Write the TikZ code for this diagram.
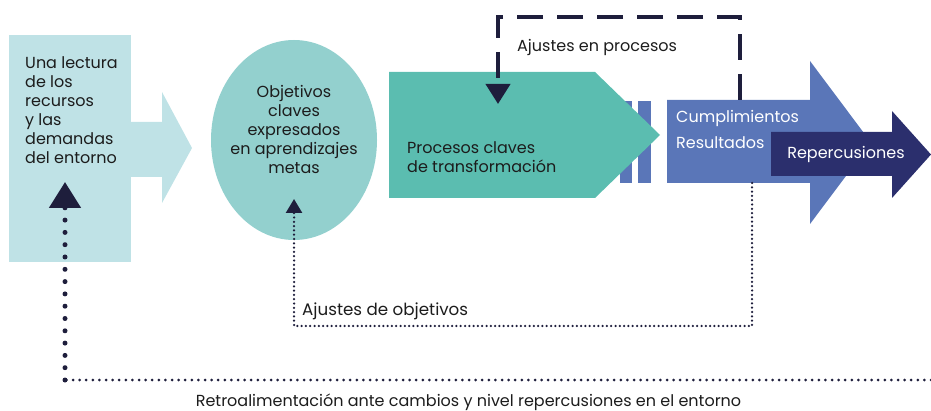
\documentclass[tikz,border=0pt]{standalone}
\usepackage{fontspec}
\setmainfont{Poppins}
\usepackage{tikz}
\usetikzlibrary{positioning, calc, arrows.meta, shapes.geometric}
\definecolor{lectura color}{HTML}{BFE2E6}
\definecolor{objetivo color}{HTML}{93D0CE}
\definecolor{proceso color}{HTML}{5BBDB0}
\definecolor{resultado color}{HTML}{5A76B8}
\definecolor{repercusion color}{HTML}{2B2F6D}
\definecolor{wire color}{HTML}{1E1E3C}
\definecolor{ink}{HTML}{1C1C1C}
\tikzset{lbl/.style={font=\fontsize{16}{19}\selectfont, text=ink, inner sep=0pt}}
\tikzset{whitelbl/.style={lbl, text=white}}
\tikzset{dashwire/.style={wire color, line width=4pt, dash pattern=on 26pt off 14pt}}
\tikzset{dotwire/.style={wire color, line width=2.5pt, line cap=round, dash pattern=on 0pt off 4.3pt}}
\tikzset{flatdotwire/.style={wire color, line width=3pt, line cap=round, dash pattern=on 0pt off 6.6pt}}
\tikzset{bigdotwire/.style={wire color, line width=5pt, line cap=round, dash pattern=on 0pt off 12.3pt}}

\begin{document}
\begin{tikzpicture}[x=1pt, y=-1pt]
                \useasboundingbox (0, 0) rectangle (931, 411);
                % lectura: box and its arrow
                \fill[lectura color] (9, 35) rectangle (131, 262);
                \fill[lectura color] (130, 122) -- (162, 122) -- (162, 92) -- (192, 148) -- (162, 203) -- (162, 177) -- (130, 177) -- cycle;
                \node[lbl, align=left, anchor=north west] (lectura) at (25, 56) {Una lectura\\de los\\recursos\\y las\\demandas\\del entorno};
                % objetivos
                \node[ellipse, fill=objetivo color, minimum width=166, minimum height=200, inner sep=0pt] (objetivos) at (294, 140) {};
                \node[lbl, align=center] (objetivostext) at (294, 129) {Objetivos\\claves\\expresados\\en aprendizajes\\metas};
                % procesos
                \fill[resultado color] (620, 101) rectangle (632, 183);
                \fill[resultado color] (638, 101) rectangle (651, 183);
                \fill[proceso color] (389, 72) -- (595, 72) -- (660, 135) -- (595, 198) -- (389, 198) -- cycle;
                \node[lbl, align=left, anchor=west] (procesos) at (407, 157.5) {Procesos claves\\de transformación};
                % resultados and repercusiones
                \fill[resultado color] (667, 100) -- (810, 100) -- (810, 61) -- (871, 142.5) -- (810, 224) -- (810, 183) -- (667, 183) -- cycle;
                \fill[repercusion color] (771, 132) -- (892, 132) -- (892, 111) -- (931, 154.5) -- (892, 198) -- (892, 176) -- (771, 176) -- cycle;
                \node[whitelbl, anchor=west] (cumplimientos) at (676, 118) {Cumplimientos};
                \node[whitelbl, anchor=west] (resultados) at (676, 143) {Resultados};
                \node[whitelbl] (repercusiones) at (846, 154) {Repercusiones};
                % connector ends
                \coordinate (resultadostop) at (740, 100);
                \coordinate (procesostop) at (498, 17);
                \coordinate (procesosin) at (498, 104);
                \coordinate (resultadosbottom) at (752, 183);
                \coordinate (objetivoscorner) at (752, 326);
                \coordinate (objetivosin) at (294, 199);
                \coordinate (retroright) at (931, 380);
                \coordinate (retrocorner) at (65, 380);
                \coordinate (lecturain) at (65, 182);
                % feedback loops
                \draw[dashwire, -{Triangle[width=24pt, length=20pt]}] (resultadostop) |- (procesostop) -- (procesosin);
                \draw[dotwire, -{Triangle[width=16pt, length=14pt]}] (resultadosbottom) -- (objetivoscorner) -| (objetivosin);
                \draw[flatdotwire] (retroright) -- (retrocorner);
                \draw[bigdotwire, -{Triangle[width=31pt, length=26pt]}] (retrocorner) -- (lecturain);
                \node[lbl, anchor=west] (ajusteprocesos) at (517, 47) {Ajustes en procesos};
                \node[lbl, font=\fontsize{16.7}{19}\selectfont, anchor=west] (ajusteobjetivos) at (302, 311) {Ajustes de objetivos};
                \node[lbl] (retro) at (468.5, 402) {Retroalimentación ante cambios y nivel repercusiones en el entorno};
\end{tikzpicture}
\end{document}
